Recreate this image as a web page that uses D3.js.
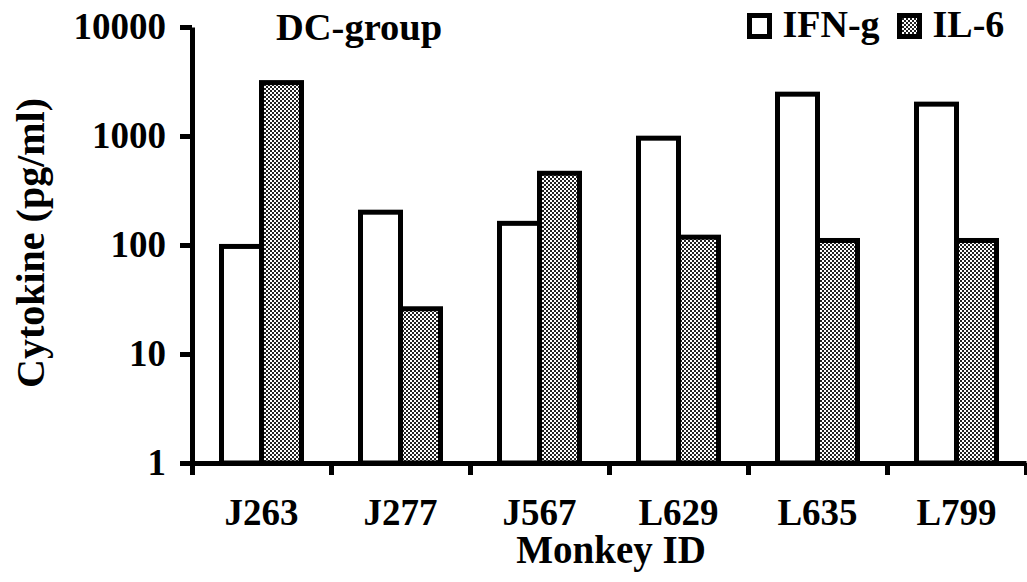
<!DOCTYPE html>
<html>
<head>
<meta charset="utf-8">
<script src="https://cdn.jsdelivr.net/npm/d3@7"></script>
<style>
  body { margin: 0; background: #fff; }
  svg { display: block; font-family: "Liberation Serif", "Times New Roman", serif; font-weight: bold; }
</style>
</head>
<body>
<svg width="1027" height="582"></svg>
<script>

// data
var monkeys = ["J263", "J277", "J567", "L629", "L635", "L799"]
var ifn = [97, 200, 158, 955, 2420, 1960]
var il6 = [3090, 26, 455, 118, 110, 110]
var yTicks = [1, 10, 100, 1000, 10000]
var seriesNames = ["IFN-g", "IL-6"]

var svg = d3.select("svg")

var plotLeft = 192, plotRight = 1026, plotTop = 27, plotBottom = 463
var barW = 40

var x = d3.scaleBand().domain(monkeys).range([plotLeft, plotRight])
var xEdge = d3.scaleLinear().domain([0, monkeys.length]).range([plotLeft, plotRight])
var y = d3.scaleLog().domain([1, 10000]).range([plotBottom, plotTop])

// checker fill for IL-6
var pat = svg.append("defs").append("pattern")
  .attr("id", "checker")
  .attr("patternUnits", "userSpaceOnUse")
  .attr("width", 4).attr("height", 4)
pat.append("rect").attr("width", 4).attr("height", 4).attr("fill", "#fff")
pat.append("rect").attr("width", 2).attr("height", 2).attr("fill", "#222")
pat.append("rect").attr("x", 2).attr("y", 2).attr("width", 2).attr("height", 2).attr("fill", "#222")

var rows = monkeys.map(function(m, i){ return {id: m, ifn: ifn[i], il6: il6[i]} })

// bars
svg.selectAll(".ifn").data(rows).enter().append("rect")
  .attr("class", "ifn")
  .attr("x", function(d){ return x(d.id) + x.bandwidth()/2 - barW })
  .attr("y", function(d){ return y(d.ifn) })
  .attr("width", barW)
  .attr("height", function(d){ return y(1) - y(d.ifn) })
  .style("fill", "#fff").style("stroke", "#000").style("stroke-width", 5)

svg.selectAll(".il6").data(rows).enter().append("rect")
  .attr("class", "il6")
  .attr("x", function(d){ return x(d.id) + x.bandwidth()/2 })
  .attr("y", function(d){ return y(d.il6) })
  .attr("width", barW)
  .attr("height", function(d){ return y(1) - y(d.il6) })
  .style("fill", "url(#checker)").style("stroke", "#000").style("stroke-width", 5)

// y axis
var yAxis = svg.append("g")
  .attr("transform", "translate(" + plotLeft + ",0)")
  .call(d3.axisLeft(y).tickValues(yTicks).tickFormat(d3.format("d")).tickSize(12).tickSizeOuter(0).tickPadding(14))
yAxis.select(".domain").attr("stroke-width", 5)
yAxis.selectAll(".tick line").attr("stroke-width", 5)
yAxis.selectAll(".tick text").style("font-size", "37px").style("font-family", "Liberation Serif").style("font-weight", "bold").attr("fill", "#000")

// x axis: ticks on category edges, labels at centers
var xAxis = svg.append("g")
  .attr("transform", "translate(0," + plotBottom + ")")
  .call(d3.axisBottom(xEdge).tickValues(d3.range(monkeys.length + 1)).tickFormat("").tickSize(12).tickSizeOuter(0))
xAxis.select(".domain").attr("stroke-width", 5)
xAxis.selectAll(".tick line").attr("stroke-width", 5)

svg.selectAll(".cat").data(monkeys).enter().append("text")
  .attr("class", "cat")
  .attr("x", function(d){ return x(d) + x.bandwidth()/2 })
  .attr("y", 525)
  .attr("text-anchor", "middle")
  .style("font-size", "37px")
  .text(function(d){ return d })

// titles
svg.append("text").attr("x", 611).attr("y", 563).attr("text-anchor", "middle")
  .style("font-size", "39px").text("Monkey ID")

svg.append("text").attr("transform", "translate(44,243) rotate(-90)").attr("text-anchor", "middle")
  .style("font-size", "40px").text("Cytokine (pg/ml)")

svg.append("text").attr("x", 276).attr("y", 40)
  .style("font-size", "38.5px").text("DC-group")

// legend
var legend = svg.append("g")
var legendX = [749.5, 899.5]
legend.selectAll("rect").data(seriesNames).enter().append("rect")
  .attr("x", function(d, i){ return legendX[i] })
  .attr("y", 15.5).attr("width", 20).attr("height", 21)
  .style("fill", function(d, i){ return i == 0 ? "#fff" : "url(#checker)" })
  .style("stroke", "#000").style("stroke-width", 5)
legend.selectAll("text").data(seriesNames).enter().append("text")
  .attr("x", function(d, i){ return legendX[i] + 33 })
  .attr("y", 37)
  .style("font-size", "38px")
  .text(function(d){ return d })

</script>
</body>
</html>
